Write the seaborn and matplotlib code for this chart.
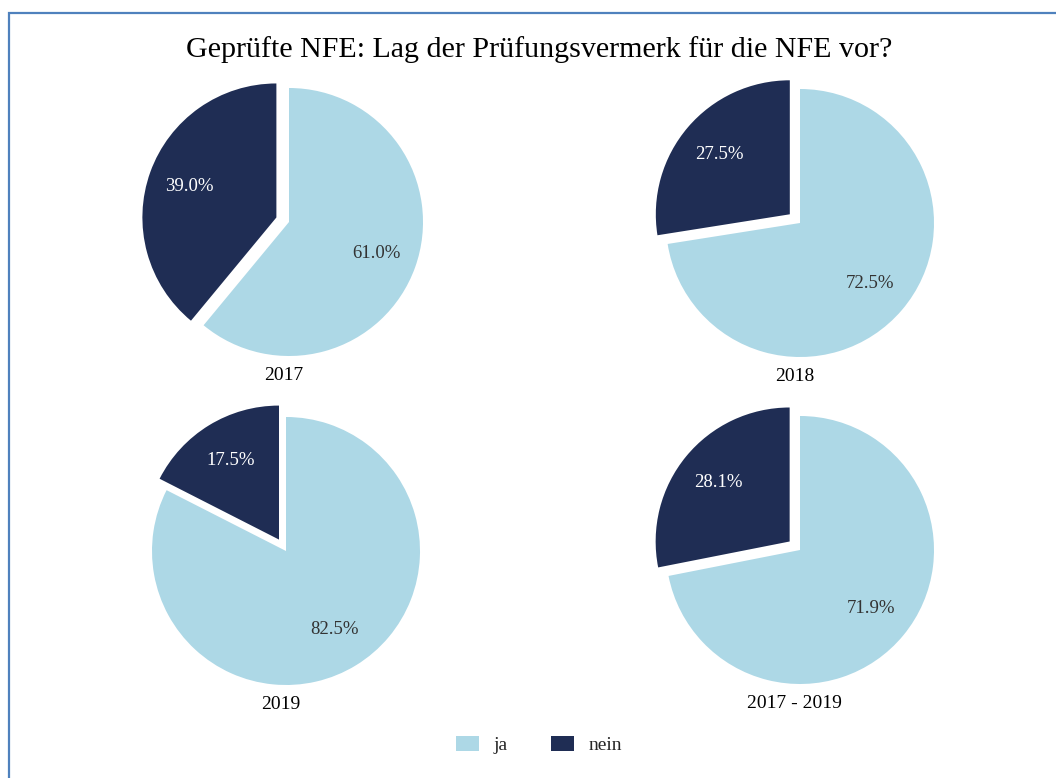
import matplotlib
matplotlib.use("Agg")
import matplotlib.pyplot as plt
from matplotlib.patches import Patch, Rectangle
import seaborn as sns

# Data
categories = ["ja", "nein"]
periods = ["2017", "2018", "2019", "2017 - 2019"]
ja_share = [61.0, 72.5, 82.5, 71.9]
nein_share = [39.0, 27.5, 17.5, 28.1]
title = "Geprüfte NFE: Lag der Prüfungsvermerk für die NFE vor?"

sns.set_theme(style="white")
plt.rcParams["font.family"] = ["Liberation Serif", "DejaVu Serif"]
colors = ["#ADD8E6", "#1F2D54"]
text_colors = ["#333333", "white"]

W, H = 1056, 778
fig = plt.figure(figsize=(W / 100, H / 100), dpi=100)

# outer frame line
fig.patches.append(Rectangle((9 / W, -0.05), 1.1, 1 - 13 / H + 0.05,
                             transform=fig.transFigure, fill=False,
                             edgecolor="#4F81BD", linewidth=1.6))

fig.text(539 / W, 1 - 50 / H, title, ha="center", va="center",
         fontsize=21.6, color="black")

# pie centres in pixels and radius
centres = [(289, 222), (800, 223), (286, 551), (800, 550)]
radius_px = 134
lim = 1.3
size_px = 2 * lim * radius_px

for (cx, cy), period, ja, nein in zip(centres, periods, ja_share, nein_share):
    ax = fig.add_axes([(cx - size_px / 2) / W, (H - cy - size_px / 2) / H,
                       size_px / W, size_px / H])
    wedges, texts, autotexts = ax.pie(
        [ja, nein], colors=colors, startangle=90, counterclock=False,
        explode=[0, 0.1], autopct="%.1f%%", pctdistance=0.69,
        wedgeprops=dict(linewidth=0), textprops=dict(fontsize=13.5))
    for t, c in zip(autotexts, text_colors):
        t.set_color(c)
    ax.set_xlim(-lim, lim)
    ax.set_ylim(-lim, lim)
    ax.set_aspect("equal")
    ax.axis("off")
    ax.text(-0.04, -1.145, period, ha="center", va="center",
            fontsize=14, color="black")

handles = [Patch(facecolor=c, edgecolor="none", label=l)
           for c, l in zip(colors, categories)]
fig.legend(handles=handles, loc="center", bbox_to_anchor=(539 / W, 1 - 745 / H),
           ncol=2, frameon=False, fontsize=14, handlelength=1.2,
           handleheight=0.85, handletextpad=0.75, columnspacing=2.2)

fig.savefig("out.png", dpi=100)
